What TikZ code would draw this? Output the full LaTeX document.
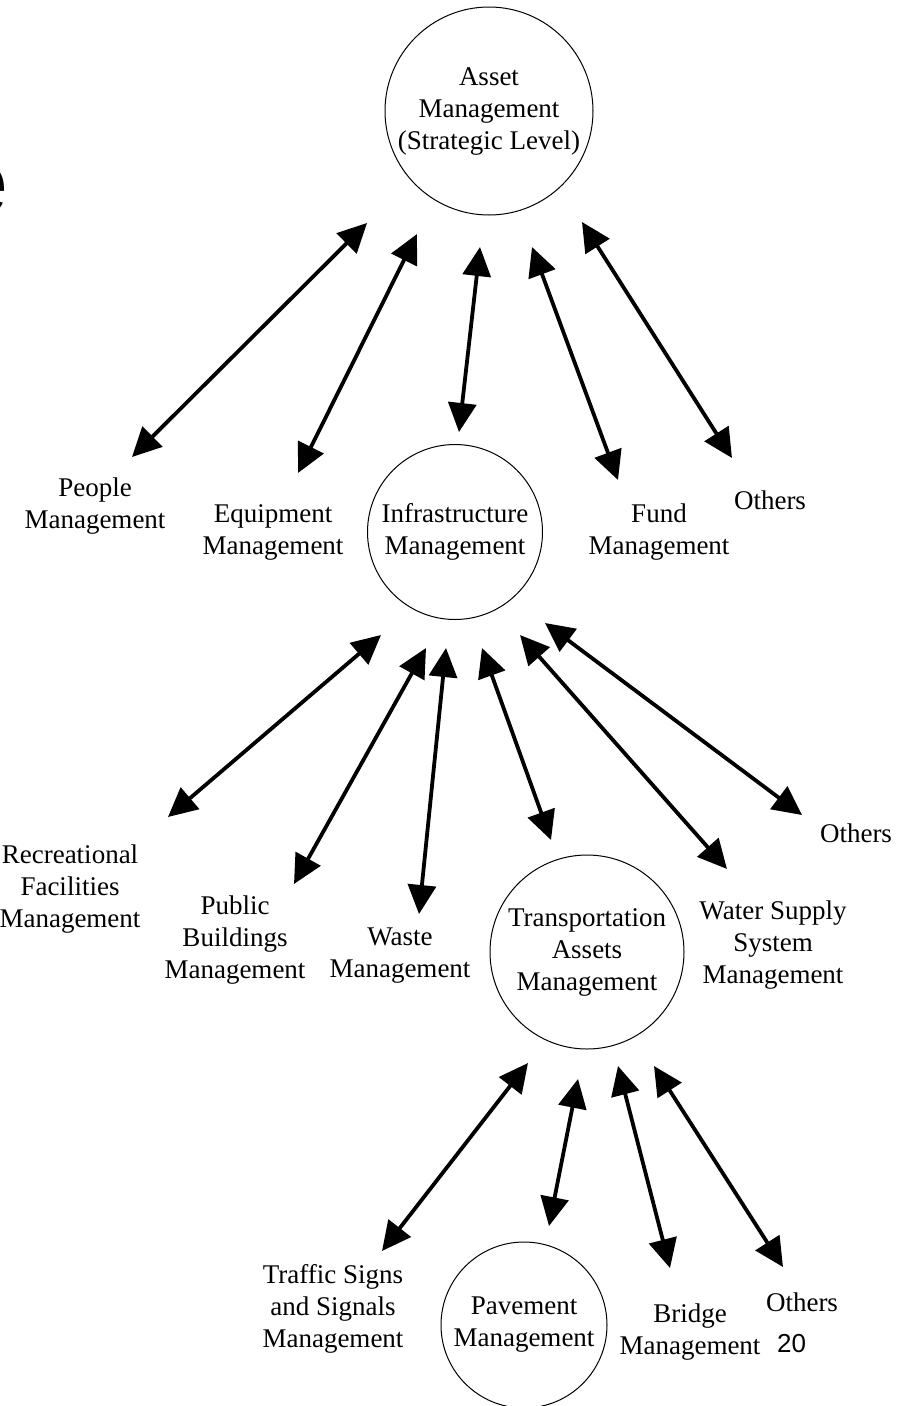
\documentclass[tikz,border=0pt]{standalone}
\usepackage{fontspec}
\setmainfont{Liberation Serif}
\newfontfamily\sansf{Liberation Sans}
\usetikzlibrary{arrows.meta}
\begin{document}
\begin{tikzpicture}[x=1pt,y=-1pt,
  lbl/.style={inner sep=0pt, align=center, font=\fontsize{27}{32}\selectfont},
  circ/.style={draw, circle, line width=1pt, inner sep=0pt, align=center, font=\fontsize{27}{32}\selectfont},
  link/.style={line width=3.8pt, {Triangle[length=29pt,width=28pt]}-{Triangle[length=29pt,width=28pt]}}]
\useasboundingbox (0,0) rectangle (907,1406);
% fragment of a cut-off title letter
\node[anchor=base west, inner sep=0pt, font=\sansf\fontsize{90}{90}\selectfont] (frag) at (-42,213) {e};
% circles
\node[circ, minimum size=208pt] (asset) at (489,111) {Asset\\Management\\(Strategic Level)};
\node[circ, minimum size=175pt] (infra) at (455,532) {Infrastructure\\Management};
\node[circ, minimum size=194pt] (trans) at (587,952) {Transportation\\Assets\\Management};
\node[circ, minimum size=166pt] (pave) at (524,1325) {Pavement\\Management};
% labels
\node[lbl] (people) at (95,506) {People\\Management};
\node[lbl] (equip) at (273,532) {Equipment\\Management};
\node[lbl] (fund) at (659,532) {Fund\\Management};
\node[lbl] (oth1) at (770,500) {Others};
\node[lbl] (recr) at (70,889) {Recreational\\Facilities\\Management};
\node[lbl] (public) at (235,940) {Public\\Buildings\\Management};
\node[lbl] (waste) at (400,956) {Waste\\Management};
\node[lbl] (water) at (773,945) {Water Supply\\System\\Management};
\node[lbl] (oth2) at (856,833) {Others};
\node[lbl] (traffic) at (333,1309) {Traffic Signs\\and Signals\\Management};
\node[lbl] (bridge) at (690,1332) {Bridge\\Management};
\node[lbl] (oth3) at (802,1302) {Others};
\node[inner sep=0pt, anchor=west, font=\sansf\fontsize{26}{30}\selectfont] (pagenum) at (777,1344) {20};
% arrow ends
\coordinate (a1s) at (367,223); \coordinate (a1e) at (132,457);
\coordinate (a2s) at (417,234); \coordinate (a2e) at (298,473);
\coordinate (a3s) at (480,247); \coordinate (a3e) at (459,432);
\coordinate (a4s) at (532,247); \coordinate (a4e) at (618,480);
\coordinate (a5s) at (582,222); \coordinate (a5e) at (732,458);
\coordinate (b1s) at (381,635); \coordinate (b1e) at (168,817);
\coordinate (b2s) at (426,648); \coordinate (b2e) at (294,884);
\coordinate (b3s) at (446,648); \coordinate (b3e) at (419,914);
\coordinate (b4s) at (482,648); \coordinate (b4e) at (551,840);
\coordinate (b5s) at (520,635); \coordinate (b5e) at (727,869);
\coordinate (b6s) at (545,623); \coordinate (b6e) at (802,815);
\coordinate (c1s) at (528,1063); \coordinate (c1e) at (382,1251);
\coordinate (c2s) at (578,1079); \coordinate (c2e) at (549,1226);
\coordinate (c3s) at (618,1066); \coordinate (c3e) at (670,1268);
\coordinate (c4s) at (654,1066); \coordinate (c4e) at (783,1267);
\foreach \n in {a1,a2,a3,a4,a5,b1,b2,b3,b4,b5,b6,c1,c2,c3,c4}
  \draw[link] (\n s) -- (\n e);
\end{tikzpicture}
\end{document}
